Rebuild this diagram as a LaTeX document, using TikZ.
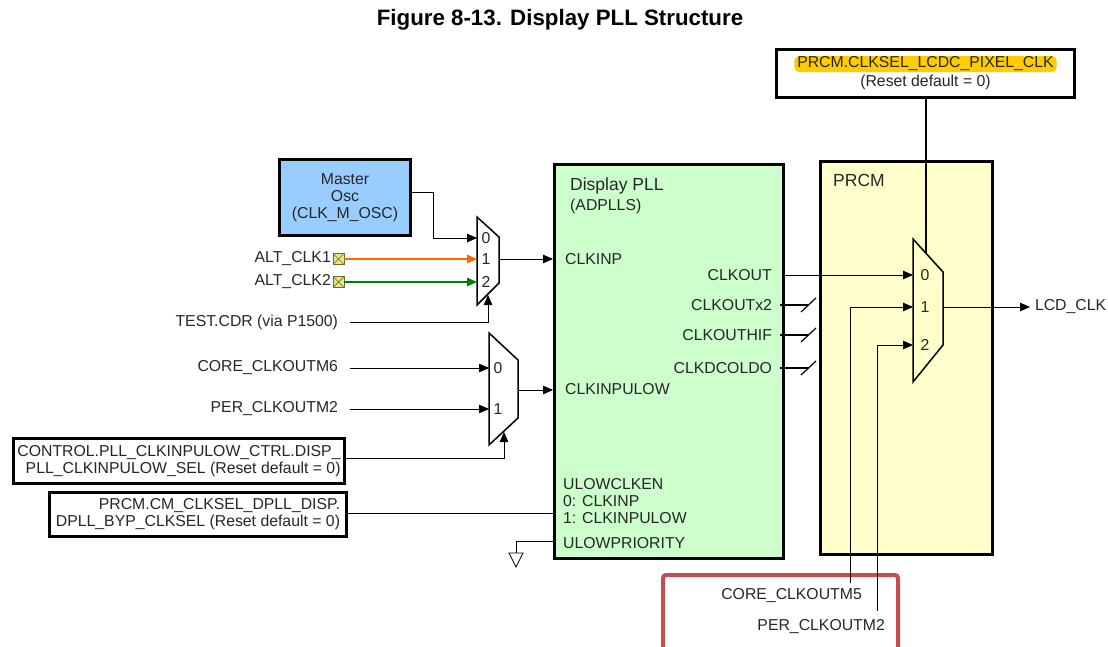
\documentclass[tikz,border=0pt]{standalone}
\usepackage{fontspec}
\setmainfont{Liberation Sans}
\usetikzlibrary{arrows.meta}
\definecolor{oscblue}{HTML}{99CCFF}
\definecolor{pllgreen}{HTML}{CCFFCC}
\definecolor{prcmyel}{HTML}{FFFFCC}
\definecolor{hilite}{HTML}{FFCC00}
\definecolor{boxred}{HTML}{C0504D}
\definecolor{altorange}{HTML}{FF6600}
\definecolor{altgreen}{HTML}{008000}
\definecolor{padfill}{HTML}{E6E68C}
\definecolor{padline}{HTML}{6B6B2A}

\begin{document}
\begin{tikzpicture}[x=1pt,y=-1pt,
  lbl/.style={font=\fontsize{15.8}{17}\selectfont, inner sep=0pt, text=black!85},
  blk/.style={draw, line width=3pt, inner sep=0pt},
  regbox/.style={draw, line width=3pt, fill=white, align=right, inner sep=0pt, lbl},
  src/.style={lbl, anchor=east, outer xsep=12pt},
  sig/.style={line width=0.8pt, -{Triangle[length=10pt,width=8.5pt]}},
  wire/.style={line width=0.8pt},
  stub/.style={line width=2.5pt},
  muxshape/.style={line width=1.5pt},
  pad/.style={draw=padline, fill=padfill, line width=0.7pt, minimum size=11pt, inner sep=0pt,
    path picture={\draw[padline, line width=0.7pt] (path picture bounding box.north west) -- (path picture bounding box.south east)
      (path picture bounding box.south west) -- (path picture bounding box.north east);}}]
\useasboundingbox (0,0) rectangle (1108,647);

\node[font=\bfseries\fontsize{22.3}{25}\selectfont] (title) at (560,20) {Figure 8-13. Display PLL Structure};

\draw[boxred, line width=4pt, rounded corners=3pt] (663,575) rectangle (898,700);

\node[blk, fill=oscblue, minimum width=131, minimum height=76, align=center, lbl, line width=3pt] (osc) at (345,197.5) {Master\\Osc\\(CLK\_M\_OSC)};
\node[blk, fill=pllgreen, minimum width=229, minimum height=394] (pll) at (669,361.5) {};
\node[blk, fill=prcmyel, minimum width=172, minimum height=393] (prcm) at (906.5,358) {};
\node[blk, fill=white, minimum width=298, minimum height=48] (selbox) at (925.5,73.5) {};
\node[lbl, fill=hilite, rounded corners=5pt, inner xsep=3pt, inner ysep=1pt] (selname) at (925.5,64) {PRCM.CLKSEL\_LCDC\_PIXEL\_CLK};
\node[lbl] (seldef) at (925.5,82) {(Reset default = 0)};
\node[regbox, minimum width=331, minimum height=45] (ctrl) at (179,461) {CONTROL.PLL\_CLKINPULOW\_CTRL.DISP\_\\PLL\_CLKINPULOW\_SEL (Reset default = 0)};
\node[regbox, minimum width=297, minimum height=44] (byp) at (198,514.5) {PRCM.CM\_CLKSEL\_DPLL\_DISP.\\DPLL\_BYP\_CLKSEL (Reset default = 0)};

\node[lbl, anchor=west, font=\fontsize{17.5}{20}\selectfont] (pllname) at (570,186) {Display PLL};
\node[lbl, anchor=west] (pllsub) at (570,206) {(ADPLLS)};
\node[lbl, anchor=west, font=\fontsize{17.5}{20}\selectfont] (prcmname) at (833,180) {PRCM};
\node[lbl, anchor=west] (clkinp) at (565,259) {CLKINP};
\node[lbl, anchor=west] (clkinpulow) at (565,389) {CLKINPULOW};
\node[lbl, anchor=west, align=left] (ulowclken) at (563,501) {ULOWCLKEN\\0: CLKINP\\1: CLKINPULOW};
\node[lbl, anchor=west] (ulowprio) at (563,543) {ULOWPRIORITY};
\node[lbl, anchor=east] (clkout) at (772,275) {CLKOUT};
\node[lbl, anchor=east, outer xsep=8pt] (clkx2) at (780,305) {CLKOUTx2};
\node[lbl, anchor=east, outer xsep=8pt] (clkhif) at (780,335) {CLKOUTHIF};
\node[lbl, anchor=east, outer xsep=8pt] (clkdco) at (780,368) {CLKDCOLDO};

% mux in front of CLKINP
\draw[muxshape, fill=white] (477,217) -- (499,237) -- (499,283) -- (477,305) -- cycle;
\coordinate (m1a) at (477,238);
\coordinate (m1b) at (477,259);
\coordinate (m1c) at (477,282);
\coordinate (m1s) at (488,295);
\coordinate (m1o) at (499,259);
\node[lbl] at (486,238) {0};
\node[lbl] at (486,259) {1};
\node[lbl] at (486,282) {2};

% mux in front of CLKINPULOW
\draw[muxshape, fill=white] (489,333) -- (518,360) -- (518,418) -- (489,445) -- cycle;
\coordinate (m3a) at (489,368);
\coordinate (m3b) at (489,409);
\coordinate (m3s) at (504,432);
\coordinate (m3o) at (518,390);
\node[lbl] at (498,368) {0};
\node[lbl] at (498,409) {1};

% mux in PRCM
\draw[muxshape] (913,239) -- (943,272) -- (943,345) -- (913,382) -- cycle;
\coordinate (m2a) at (913,275);
\coordinate (m2b) at (913,307);
\coordinate (m2c) at (913,345);
\coordinate (m2s) at (925.5,253);
\coordinate (m2o) at (943,307);
\node[lbl] at (925,275) {0};
\node[lbl] at (925,307) {1};
\node[lbl] at (925,345) {2};

\node[lbl, anchor=east] (altclk1) at (331,259) {ALT\_CLK1};
\node[lbl, anchor=east] (altclk2) at (331,282) {ALT\_CLK2};
\node[pad] (pad1) at (338.5,259) {};
\node[pad] (pad2) at (338.5,282) {};
\node[src] (tcdr) at (350,322) {TEST.CDR (via P1500)};
\node[src] (core6) at (350,368) {CORE\_CLKOUTM6};
\node[src] (per2a) at (350,409) {PER\_CLKOUTM2};
\node[lbl, anchor=east] (core5) at (862,596) {CORE\_CLKOUTM5};
\node[lbl, anchor=east] (per2b) at (885,627) {PER\_CLKOUTM2};
\node[lbl, anchor=west, outer xsep=5pt] (lcd) at (1030,307) {LCD\_CLK};
\coordinate (core5top) at (850,583);
\coordinate (per2top) at (877,611);
\coordinate (gnd) at (516,553);

\draw[sig] ([yshift=5.5pt]osc.east) -- (433,192) |- (m1a);
\draw[sig, altorange, line width=1.5pt] (pad1.east) -- (m1b);
\draw[sig, altgreen, line width=1.5pt] (pad2.east) -- (m1c);
\draw[sig] (tcdr.east) -| (m1s);
\draw[sig] (m1o) -- (pll.west |- m1o);
\draw[sig] (core6.east) -- (m3a);
\draw[sig] (per2a.east) -- (m3b);
\draw[sig] ([yshift=3pt]ctrl.east) -| (m3s);
\draw[sig] (m3o) -- (pll.west |- m3o);
\draw[wire] ([yshift=1.5pt]byp.east) -- (pll.west |- 0,513);
\draw[wire] (pll.west |- 0,541) -| (gnd);
\draw[wire, fill=white] (gnd) ++(-7,0) -- ++(14,0) -- ++(-7,14) -- cycle;

\draw[sig] (pll.east |- clkout) -- (m2a);
\foreach \p in {clkx2, clkhif, clkdco}
  \draw[stub] (\p.east) -- ++(28,0) ++(-7,7) edge[line width=1.2pt] ++(15,-14);
\draw[sig] (core5top) |- (m2b);
\draw[sig] (per2top) |- (m2c);
\draw[line width=2pt] (selbox) -- (m2s);
\draw[sig] (m2o) -- (lcd.west);
\end{tikzpicture}
\end{document}
